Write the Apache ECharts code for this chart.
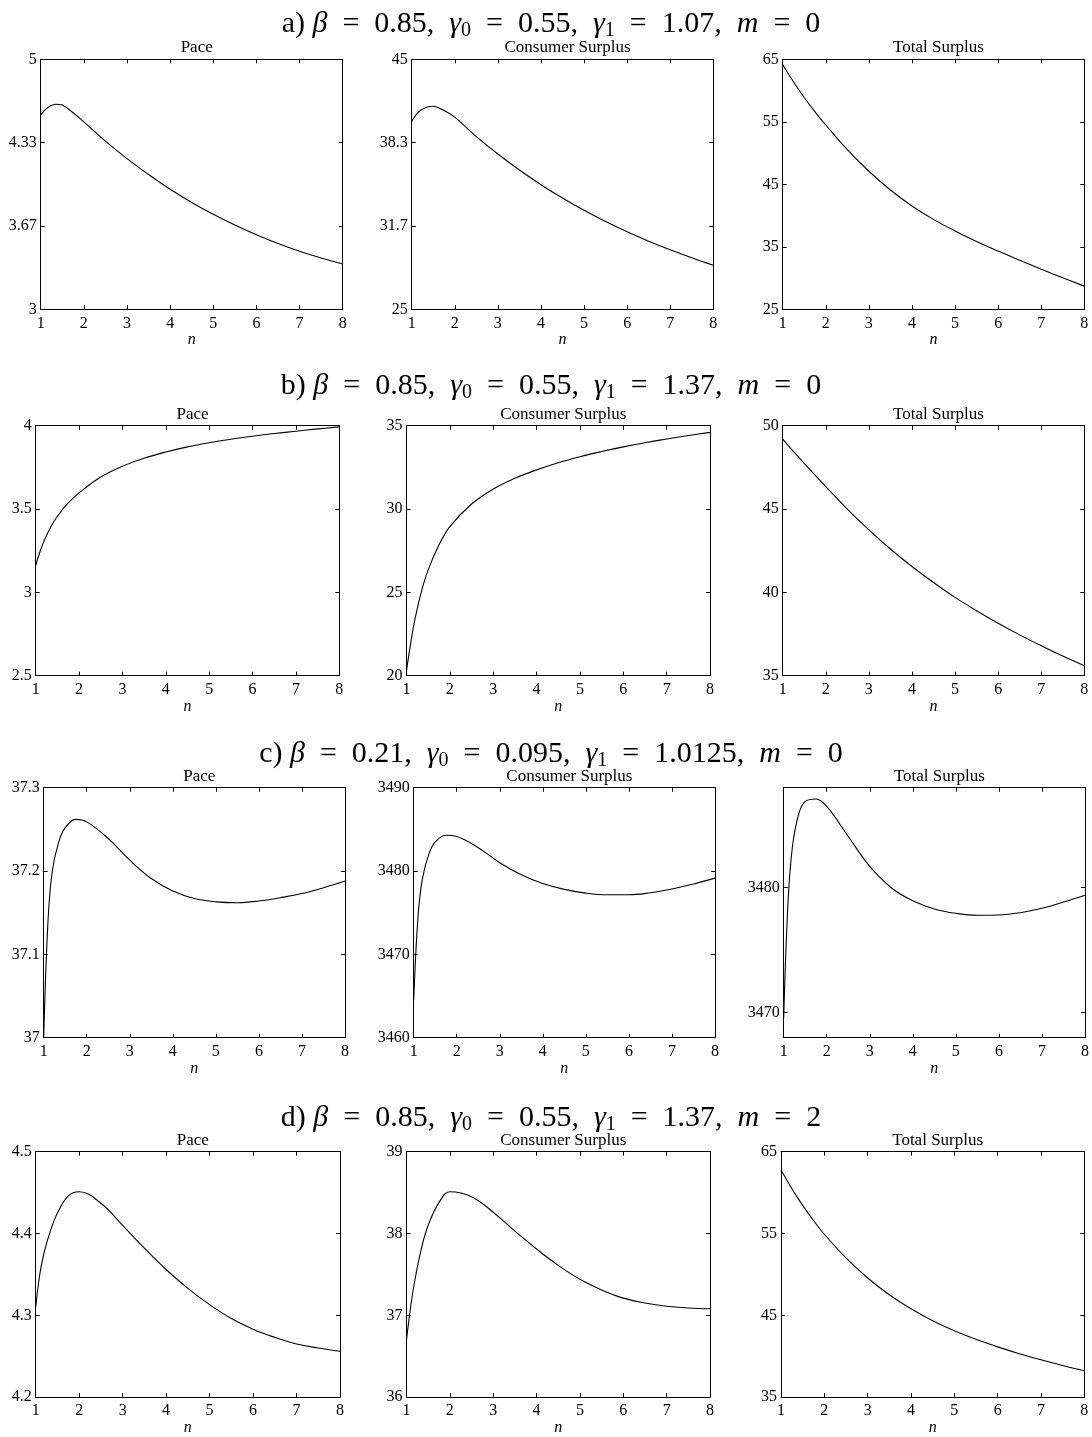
<!DOCTYPE html>
<html>
<head>
    <meta charset="utf-8">
    <title>Pace and surplus</title>
    <script src="https://cdn.jsdelivr.net/npm/echarts@6.0.0/dist/echarts.min.js"></script>
    <style>
        body { margin: 0; background: #fff; }
        #main { width: 1092px; height: 1437px; }
    </style>
</head>
<body>
<div id="main"></div>
<script type="text/javascript">
    // n values shared by every panel
    var nVals = [1, 1.1, 1.2, 1.35, 1.5, 1.75, 2, 2.5, 3, 3.5, 4, 4.5, 5, 5.5, 6, 6.5, 7, 7.5, 8];

    // a) beta=0.85, g0=0.55, g1=1.07, m=0
    var paceA  = [4.554, 4.595, 4.623, 4.641, 4.634, 4.572, 4.50, 4.345, 4.205, 4.078, 3.96, 3.855, 3.76, 3.674, 3.596, 3.526, 3.464, 3.41, 3.362];
    var consA  = [40.04, 40.55, 40.9, 41.17, 41.24, 40.9, 40.37, 38.82, 37.42, 36.14, 34.97, 33.90, 32.92, 32.02, 31.20, 30.45, 29.76, 29.12, 28.52];
    var totalA = [64.15, 63.02, 61.93, 60.37, 58.89, 56.59, 54.49, 50.54, 47.09, 44.09, 41.54, 39.39, 37.54, 35.86, 34.31, 32.84, 31.41, 30.04, 28.71];
    // b) beta=0.85, g0=0.55, g1=1.37, m=0
    var paceB  = [3.16, 3.245, 3.313, 3.394, 3.457, 3.537, 3.597, 3.692, 3.757, 3.805, 3.842, 3.873, 3.898, 3.919, 3.937, 3.953, 3.967, 3.981, 3.993];
    var consB  = [20.3, 22.0, 23.45, 25.1, 26.35, 27.85, 28.95, 30.3, 31.2, 31.85, 32.35, 32.78, 33.14, 33.45, 33.73, 33.98, 34.2, 34.41, 34.6];
    var totalB = [49.2, 48.9, 48.6, 48.17, 47.74, 47.04, 46.35, 44.99, 43.75, 42.6, 41.55, 40.59, 39.7, 38.9, 38.15, 37.45, 36.8, 36.18, 35.6];
    // c) beta=0.21, g0=0.095, g1=1.0125, m=0
    var paceC  = [37.0, 37.14, 37.2, 37.235, 37.252, 37.262, 37.259, 37.239, 37.213, 37.191, 37.176, 37.167, 37.163, 37.162, 37.164, 37.168, 37.173, 37.18, 37.188];
    var consC  = [3464.5, 3474.5, 3479.0, 3482.0, 3483.5, 3484.3, 3484.15, 3482.8, 3481.0, 3479.55, 3478.5, 3477.8, 3477.35, 3477.15, 3477.15, 3477.4, 3477.85, 3478.45, 3479.15];
    var totalC = [3469.6, 3478.8, 3483.2, 3485.9, 3486.9, 3487.1, 3486.5, 3484.1, 3481.7, 3480.0, 3478.95, 3478.3, 3477.95, 3477.8, 3477.82, 3478.0, 3478.35, 3478.85, 3479.4];
    // d) beta=0.85, g0=0.55, g1=1.37, m=2
    var paceD  = [4.31, 4.352, 4.378, 4.405, 4.425, 4.446, 4.451, 4.437, 4.41, 4.382, 4.356, 4.333, 4.313, 4.296, 4.283, 4.273, 4.265, 4.26, 4.256];
    var consD  = [36.7, 37.12, 37.45, 37.83, 38.1, 38.38, 38.51, 38.45, 38.26, 38.03, 37.81, 37.61, 37.44, 37.31, 37.21, 37.15, 37.11, 37.09, 37.08];
    var totalD = [62.8, 61.85, 60.94, 59.65, 58.44, 56.59, 54.91, 52.01, 49.56, 47.51, 45.79, 44.34, 43.11, 42.06, 41.14, 40.31, 39.56, 38.87, 38.23];

    var EQ = '\u2002=\u2002';
    var CM = ',\u2002';
    var rowTitles = [
        '{t|a) }{i|β}{t|' + EQ + '0.85' + CM + '}{i|γ}{s|0}{t|' + EQ + '0.55' + CM + '}{i|γ}{s|1}{t|' + EQ + '1.07' + CM + '}{i|m}{t|' + EQ + '0}',
        '{t|b) }{i|β}{t|' + EQ + '0.85' + CM + '}{i|γ}{s|0}{t|' + EQ + '0.55' + CM + '}{i|γ}{s|1}{t|' + EQ + '1.37' + CM + '}{i|m}{t|' + EQ + '0}',
        '{t|c) }{i|β}{t|' + EQ + '0.21' + CM + '}{i|γ}{s|0}{t|' + EQ + '0.095' + CM + '}{i|γ}{s|1}{t|' + EQ + '1.0125' + CM + '}{i|m}{t|' + EQ + '0}',
        '{t|d) }{i|β}{t|' + EQ + '0.85' + CM + '}{i|γ}{s|0}{t|' + EQ + '0.55' + CM + '}{i|γ}{s|1}{t|' + EQ + '1.37' + CM + '}{i|m}{t|' + EQ + '2}'
    ];
    var panelTitles = ['Pace', 'Consumer Surplus', 'Total Surplus'];

    var seriesData = [paceA, consA, totalA, paceB, consB, totalB, paceC, consC, totalC, paceD, consD, totalD];
    var yRange = [[3, 5], [25, 45], [25, 65], [2.5, 4], [20, 35], [35, 50],
                  [37, 37.3], [3460, 3490], [3468, 3488], [4.2, 4.5], [36, 39], [35, 65]];
    var yTicks = [[3, 3.6667, 4.3333, 5], [25, 31.667, 38.333, 45], [25, 35, 45, 55, 65],
                  [2.5, 3, 3.5, 4], [20, 25, 30, 35], [35, 40, 45, 50],
                  [37, 37.1, 37.2, 37.3], [3460, 3470, 3480, 3490], [3470, 3480],
                  [4.2, 4.3, 4.4, 4.5], [36, 37, 38, 39], [35, 45, 55, 65]];
    var yLabels = [['3', '3.67', '4.33', '5'], ['25', '31.7', '38.3', '45'], ['25', '35', '45', '55', '65'],
                   ['2.5', '3', '3.5', '4'], ['20', '25', '30', '35'], ['35', '40', '45', '50'],
                   ['37', '37.1', '37.2', '37.3'], ['3460', '3470', '3480', '3490'], ['3470', '3480'],
                   ['4.2', '4.3', '4.4', '4.5'], ['36', '37', '38', '39'], ['35', '45', '55', '65']];

    // panel geometry (px)
    var lefts  = [[40.7, 411.7, 782.7], [35.7, 406.5, 782.7], [43.7, 413.7, 783.7], [35.7, 406.5, 781]];
    var rights = [[342.7, 713.3, 1084.3], [339.3, 710, 1084.3], [345, 715, 1085], [340, 710, 1084.3]];
    var tops = [59.3, 425.7, 787.7, 1151.7];
    var rowTitleY = [19, 381, 749, 1113];
    var plotH = 250;

    var FONT = 'Liberation Serif';
    var myChart = echarts.init(document.getElementById('main'));

    var grids = [], xAxes = [], yAxes = [], series = [], titles = [];

    for (var r = 0; r < 4; r++) {
        titles.push({
            text: rowTitles[r],
            left: 546, top: rowTitleY[r],
            textAlign: 'center', textVerticalAlign: 'middle',
            textStyle: {
                fontWeight: 'normal',
                rich: {
                    t: {fontFamily: FONT, fontSize: 30, fontWeight: 'normal', color: '#000', lineHeight: 33},
                    i: {fontFamily: FONT, fontSize: 30, fontWeight: 'normal', fontStyle: 'italic', color: '#000', lineHeight: 33},
                    s: {fontFamily: FONT, fontSize: 20, fontWeight: 'normal', color: '#000', lineHeight: 15, verticalAlign: 'bottom'}
                }
            }
        });
        for (var c = 0; c < 3; c++) {
            var k = r * 3 + c;
            var l = lefts[r][c], w = rights[r][c] - lefts[r][c];
            grids.push({left: l, top: tops[r], width: w, height: plotH, containLabel: false});
            titles.push({
                text: panelTitles[c],
                left: l + w / 2, top: tops[r] - 16.5,
                textAlign: 'center', textVerticalAlign: 'middle',
                textStyle: {fontFamily: FONT, fontSize: 17, fontWeight: 'normal', color: '#000'}
            });

            var lineStyle = {color: '#000', width: 1};
            var tick = {show: true, inside: true, length: 4, lineStyle: {color: '#000'}};
            // bottom axis with labels
            xAxes.push({
                type: 'value', gridIndex: k, position: 'bottom', min: 1, max: 8, interval: 1,
                axisLine: {show: true, lineStyle: lineStyle}, axisTick: tick,
                axisLabel: {color: '#000', fontFamily: FONT, fontSize: 16, margin: 6},
                splitLine: {show: false},
                name: 'n', nameLocation: 'middle', nameGap: 19,
                nameTextStyle: {fontFamily: FONT, fontSize: 16, fontStyle: 'italic', color: '#000'}
            });
            // top axis: ticks only
            xAxes.push({
                type: 'value', gridIndex: k, position: 'top', min: 1, max: 8, interval: 1,
                axisLine: {show: true, lineStyle: lineStyle}, axisTick: tick,
                axisLabel: {show: false}, splitLine: {show: false}
            });
            (function (ticks, labels) {
                yAxes.push({
                    type: 'value', gridIndex: k, position: 'left', min: yRange[k][0], max: yRange[k][1],
                    axisLine: {show: true, lineStyle: lineStyle},
                    axisTick: {show: true, inside: true, length: 4, lineStyle: {color: '#000'}, customValues: ticks},
                    axisLabel: {
                        color: '#000', fontFamily: FONT, fontSize: 16, margin: 4, customValues: ticks,
                        formatter: function (v) {
                            for (var q = 0; q < ticks.length; q++) {
                                if (Math.abs(ticks[q] - v) < 1e-6) return labels[q];
                            }
                            return '';
                        }
                    },
                    splitLine: {show: false}
                });
            })(yTicks[k], yLabels[k]);
            // right axis: ticks only
            yAxes.push({
                type: 'value', gridIndex: k, position: 'right', min: yRange[k][0], max: yRange[k][1],
                axisLine: {show: true, lineStyle: lineStyle},
                axisTick: {show: true, inside: true, length: 4, lineStyle: {color: '#000'}, customValues: yTicks[k]},
                axisLabel: {show: false, customValues: yTicks[k]}, splitLine: {show: false}
            });

            var pts = [];
            for (var i = 0; i < nVals.length; i++) pts.push([nVals[i], seriesData[k][i]]);
            series.push({
                type: 'line', xAxisIndex: k * 2, yAxisIndex: k * 2, data: pts,
                showSymbol: false, smooth: 0.4,
                lineStyle: {color: '#000', width: 1.1}, silent: true
            });
        }
    }

    var option = {
        backgroundColor: '#fff',
        animation: false,
        title: titles,
        grid: grids,
        xAxis: xAxes,
        yAxis: yAxes,
        series: series
    };
    myChart.setOption(option);
</script>
</body>
</html>
